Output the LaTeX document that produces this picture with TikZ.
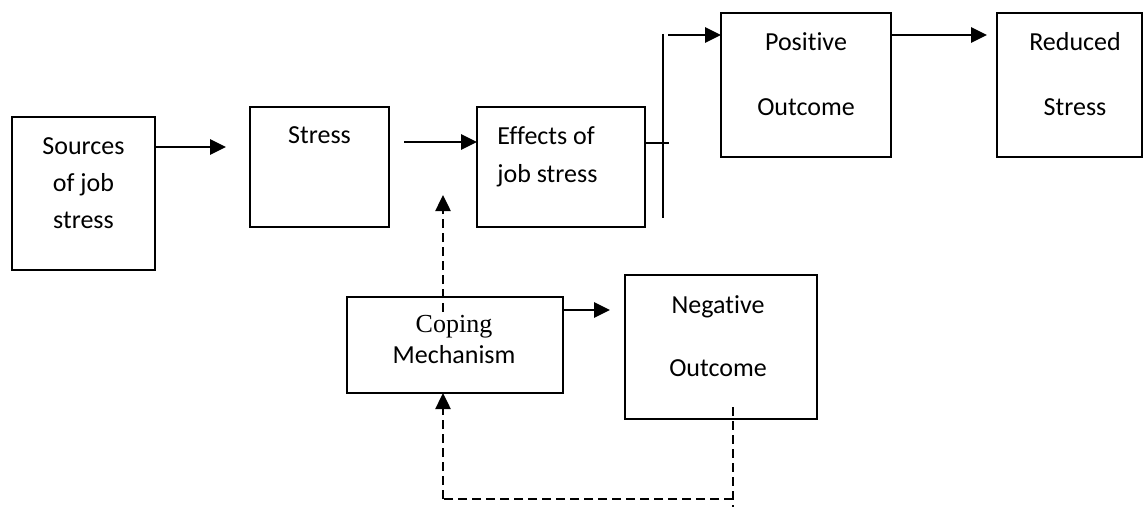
\documentclass[tikz,border=0pt]{standalone}
\usepackage{fontspec}
\setmainfont{Carlito}[Ligatures={NoCommon,NoRequired,NoContextual},Contextuals=NoAlternate]
\newfontfamily\copingfont{Liberation Serif}
\usetikzlibrary{arrows.meta}

\begin{document}
\begin{tikzpicture}[x=0.5pt,y=0.5pt,yscale=-1,xscale=1,
  box/.style={draw, line width=1.1pt, inner sep=0pt, outer sep=0pt},
  txt/.style={anchor=base, inner sep=0pt, font=\fontsize{13}{15}\selectfont},
  arr/.style={line width=1.4pt, -{Triangle[length=8pt,width=7.5pt]}},
  thinln/.style={line width=0.8pt},
  dashln/.style={line width=0.85pt, dash pattern=on 4.5pt off 2.5pt},
  dasharr/.style={line width=1.25pt, dash pattern=on 4.5pt off 2.5pt, -{Triangle[length=8pt,width=7.5pt]}}]
\path[use as bounding box] (0,0) rectangle (1143,508);

%Shape: Rectangle [sources]
\node [box, minimum width=71.5pt, minimum height=76.5pt] (src) at (83.5,193.5) {};
%Shape: Rectangle [stress]
\node [box, minimum width=69.5pt, minimum height=60pt] (stress) at (319.5,167) {};
%Shape: Rectangle [effects]
\node [box, minimum width=84pt, minimum height=60pt] (effects) at (561,167) {};
%Shape: Rectangle [positive]
\node [box, minimum width=85pt, minimum height=72pt] (pos) at (806,85) {};
%Shape: Rectangle [reduced]
\node [box, minimum width=72.5pt, minimum height=72pt] (red) at (1069.5,85) {};
%Shape: Rectangle [coping]
\node [box, minimum width=108pt, minimum height=48pt] (coping) at (455,345) {};
%Shape: Rectangle [negative]
\node [box, minimum width=96pt, minimum height=72pt] (neg) at (721,347) {};

% free ends
\coordinate (a1) at (226,147);
\coordinate (a2) at (404,142);
\coordinate (tk) at (669,143);
\coordinate (v1) at (663,34);
\coordinate (v2) at (663,218);
\coordinate (a3) at (668,35);
\coordinate (a4) at (987,35);
\coordinate (a5) at (610,310);
\coordinate (d1) at (443,312);
\coordinate (d2) at (443,195);
\coordinate (d3) at (733,407);
\coordinate (d4) at (733,507);
\coordinate (d5) at (443,499);

%Straight Lines
\draw [arr] (src.east |- a1) -- (a1);
\draw [arr] (a2) -- (effects.west |- a2);
\draw [thinln] (effects.east |- tk) -- (tk);
\draw [thinln] (v1) -- (v2);
\draw [arr] (a3) -- (pos.west |- a3);
\draw [arr] (pos.east |- a4) -- (a4);
\draw [arr] (coping.east |- a5) -- (a5);
%Dashed Lines
\draw [dasharr] (d1) -- (d2);
\draw [dashln] (d3) -- (d4);
\draw [dashln] (d3 |- d5) -- (d5);
\draw [dasharr] (d5) -- (coping.south -| d5);

% Text Node
\node [txt] (srcA) at (83.5,154) {Sources};
\node [txt] (srcB) at (83.5,191) {of job};
\node [txt] (srcC) at (83.5,228) {stress};
% Text Node
\node [txt] (stressA) at (319.5,143) {Stress};
% Text Node
\node [txt, anchor=base west] (effA) at (497,144) {Ef\kern0pt fects of};
\node [txt, anchor=base west] (effB) at (497,182) {job stress};
% Text Node
\node [txt] (posA) at (806,51) {Posit\kern0pt ive};
\node [txt] (posB) at (806,115) {Outcome};
% Text Node
\node [txt] (redA) at (1075,51) {Reduced};
\node [txt] (redB) at (1075,115) {Stress};
% Text Node
\node [txt, font=\fontsize{13}{15}\copingfont] (copA) at (454,332) {Coping};
\node [txt] (copB) at (454,363) {Mechanism};
% Text Node
\node [txt] (negA) at (718,313) {Negat\kern0pt ive};
\node [txt] (negB) at (718,376) {Outcome};
\end{tikzpicture}
\end{document}
